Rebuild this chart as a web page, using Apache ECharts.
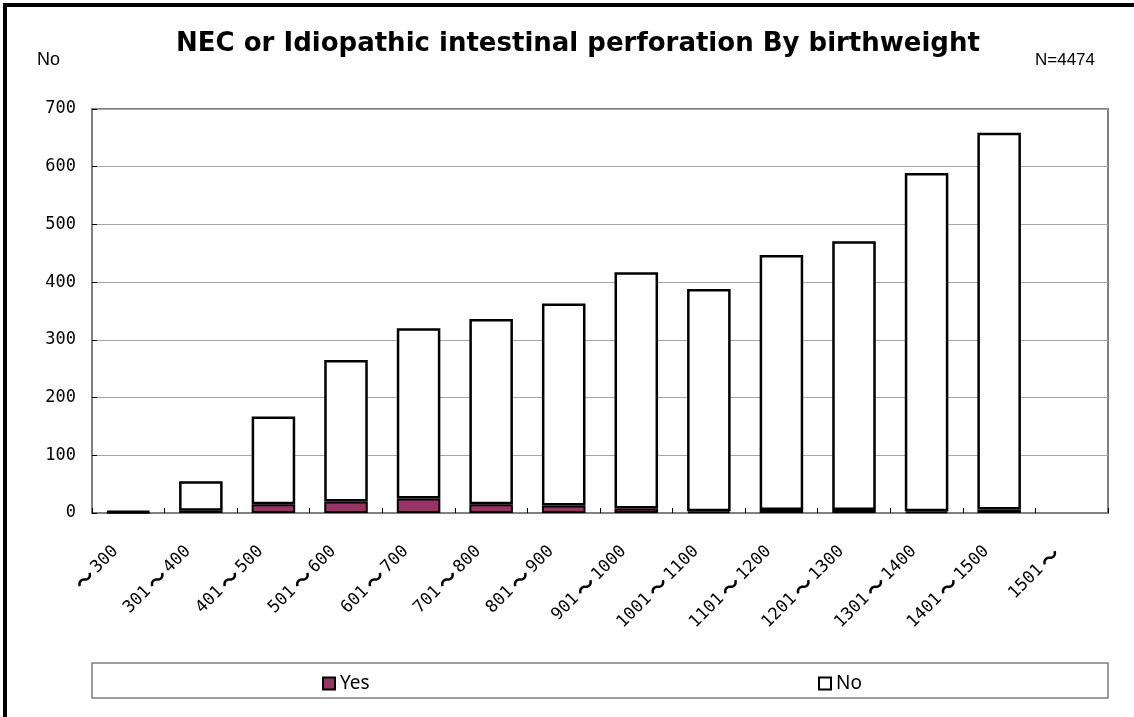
<!DOCTYPE html>
<html lang="ja">
<head>
  <meta charset="utf-8" />
  <title>NEC or Idiopathic intestinal perforation By birthweight</title>
  <script src="https://cdn.jsdelivr.net/npm/echarts@6/dist/echarts.min.js"></script>
  <style>
    html, body { margin: 0; padding: 0; background: #fff; }
    #main { width: 1134px; height: 717px; }
  </style>
</head>
<body>
<div id="main"></div>
<script>
  // birthweight groups (g)
  let categories = ['〜300', '301〜400', '401〜500', '501〜600', '601〜700', '701〜800', '801〜900',
    '901〜1000', '1001〜1100', '1101〜1200', '1201〜1300', '1301〜1400', '1401〜1500', '1501〜']
  let yesCounts = [1, 4, 15, 20, 25, 15, 13, 8, 3, 5, 5, 3, 6, 0]
  let noCounts = [2, 51, 152, 245, 295, 321, 350, 409, 385, 442, 466, 586, 653, 0]
  let yTicks = [0, 100, 200, 300, 400, 500, 600, 700]

  let monoFont = "'DejaVu Sans Mono', 'Noto Sans CJK JP', monospace"
  let gridColor = '#a6a6a6'
  let frameColor = '#808080'

  // empty groups draw nothing
  let noZero = (v) => (v === 0 ? '-' : v)

  let legendText = { fontFamily: 'Noto Sans, Arial', fontSize: 19, color: '#000' }

  let chart = echarts.init(document.getElementById('main'))

  let option = {
    backgroundColor: '#fff',
    animation: false,
    title: {
      text: 'NEC or Idiopathic intestinal perforation By birthweight',
      left: 573,
      textAlign: 'center',
      top: 26,
      textStyle: {
        fontFamily: 'DejaVu Sans, Arial',
        fontWeight: 'bold',
        fontSize: 26,
        color: '#000'
      }
    },
    graphic: [
      {
        type: 'rect',
        shape: { x: 5, y: 5, width: 1300, height: 900 },
        style: { fill: 'none', stroke: '#000', lineWidth: 4 }
      },
      {
        type: 'rect',
        shape: { x: 92, y: 663, width: 1016, height: 35 },
        style: { fill: '#fff', stroke: frameColor, lineWidth: 1.5 },
        z: -1
      },
      {
        type: 'text',
        left: 37, top: 51,
        style: { text: 'No', fontFamily: 'Liberation Sans, Arial', fontSize: 18, fill: '#000' }
      },
      {
        type: 'text',
        left: 1035, top: 52,
        style: { text: 'N=4474', fontFamily: 'Liberation Sans, Arial', fontSize: 17, fill: '#000' }
      }
    ],
    legend: [
      {
        data: ['Yes'],
        left: 322,
        top: 674,
        padding: 0,
        icon: 'rect',
        itemWidth: 12,
        itemHeight: 12,
        textStyle: legendText
      },
      {
        data: ['No'],
        left: 818,
        top: 674,
        padding: 0,
        icon: 'rect',
        itemWidth: 12,
        itemHeight: 12,
        textStyle: legendText
      }
    ],
    grid: {
      left: 92,
      right: 26,
      top: 109,
      bottom: 204,
      show: true,
      borderColor: frameColor,
      borderWidth: 2
    },
    xAxis: {
      type: 'category',
      data: categories,
      axisLine: { lineStyle: { color: frameColor, width: 2 } },
      axisTick: { show: true, inside: true, length: 5, lineStyle: { color: '#000' } },
      axisLabel: {
        rotate: 45,
        interval: 0,
        margin: 23,
        padding: [0, 18, 0, 0],
        fontFamily: monoFont,
        fontSize: 17,
        color: '#000',
        formatter: (value) => value.split('〜').join('{w|〜}'),
        rich: {
          w: { fontFamily: "'Noto Sans CJK JP'", fontSize: 20, fontWeight: 'bold', color: '#000', padding: [0, 3, 0, 3] }
        }
      }
    },
    yAxis: {
      type: 'value',
      min: yTicks[0],
      max: yTicks[yTicks.length - 1],
      interval: 100,
      axisLine: { show: true, lineStyle: { color: frameColor, width: 2 } },
      axisTick: { show: true, inside: true, length: 5, lineStyle: { color: '#000' } },
      splitLine: { lineStyle: { color: gridColor, width: 1 } },
      axisLabel: {
        margin: 16,
        fontFamily: monoFont,
        fontSize: 17,
        color: '#000'
      }
    },
    series: [
      {
        name: 'Yes',
        type: 'bar',
        stack: 'total',
        data: yesCounts.map(noZero),
        barCategoryGap: '40%',
        itemStyle: { color: '#993366', borderColor: '#000', borderWidth: 2 }
      },
      {
        name: 'No',
        type: 'bar',
        stack: 'total',
        data: noCounts.map(noZero),
        barCategoryGap: '40%',
        itemStyle: { color: '#fff', borderColor: '#000', borderWidth: 2.5 }
      }
    ]
  }

  chart.setOption(option)
</script>
</body>
</html>
